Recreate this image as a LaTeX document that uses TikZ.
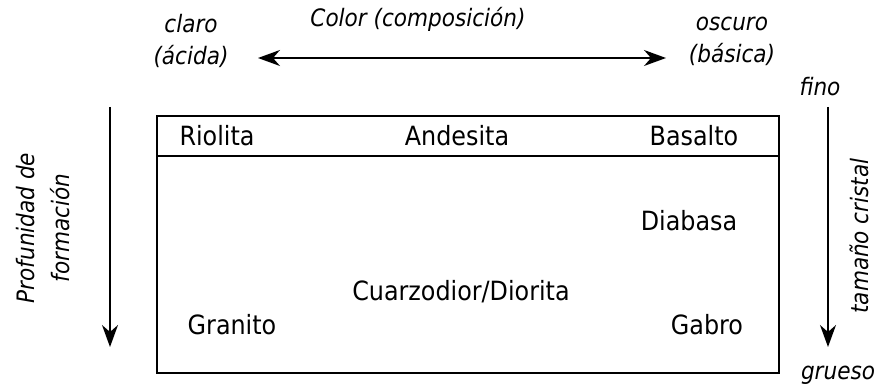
\documentclass[tikz,border=0pt]{standalone}
\usepackage{fontspec}
\setmainfont{DejaVu Sans Condensed}
\usetikzlibrary{arrows.meta}
\begin{document}
\begin{tikzpicture}[x=1pt,y=-1pt,
  rock/.style={font=\fontsize{26.5}{30}\selectfont, inner sep=0pt},
  axislabel/.style={font=\fontsize{24}{32}\selectfont\itshape, inner sep=0pt, align=center},
  sidelabel/.style={font=\fontsize{24}{35}\selectfont\itshape, inner sep=0pt, align=center},
  tip/.style={Stealth[length=22pt,width=16pt,inset=7pt]},
  axis/.style={line width=1.3pt, -{Stealth[length=22pt,width=16pt,inset=7pt]}},
  frame/.style={line width=1.3pt}]
\useasboundingbox (0,0) rectangle (876,387);
% classification table
\draw[frame] (157,116) rectangle (779,373);
\draw[frame] (157,156) -- (779,156);
\node[rock] (rio) at (217,136) {Riolita};
\node[rock] (and) at (457,136) {Andesita};
\node[rock] (bas) at (694,136) {Basalto};
\node[rock] (dia) at (689,221) {Diabasa};
\node[rock] (cua) at (461,292) {Cuarzodior/Diorita};
\node[rock] (gra) at (232,325) {Granito};
\node[rock] (gab) at (707,325) {Gabro};
% colour axis
\node[axislabel] (col) at (418,19) {Color (composición)};
\node[axislabel] (cla) at (191,41) {claro\\(ácida)};
\node[axislabel] (osc) at (732,41) {oscuro\\(básica)};
\coordinate (cl) at (258,58);
\coordinate (cr) at (666,58);
\draw[line width=1.3pt, {Stealth[length=22pt,width=16pt,inset=7pt]}-{Stealth[length=22pt,width=16pt,inset=7pt]}] (cl) -- (cr);
% depth axis
\node[sidelabel, rotate=90] (pro) at (43,228) {Profunidad de\\formación};
\coordinate (pt) at (110,107);
\coordinate (pb) at (110,347);
\draw[axis] (pt) -- (pb);
% crystal size axis
\node[axislabel] (fin) at (820,87) {fino};
\node[axislabel] (gru) at (838,375) {grueso};
\node[axislabel, rotate=90] (tam) at (859,236) {tamaño cristal};
\coordinate (ct) at (828,107);
\coordinate (cb) at (828,347);
\draw[axis] (ct) -- (cb);
\end{tikzpicture}
\end{document}
